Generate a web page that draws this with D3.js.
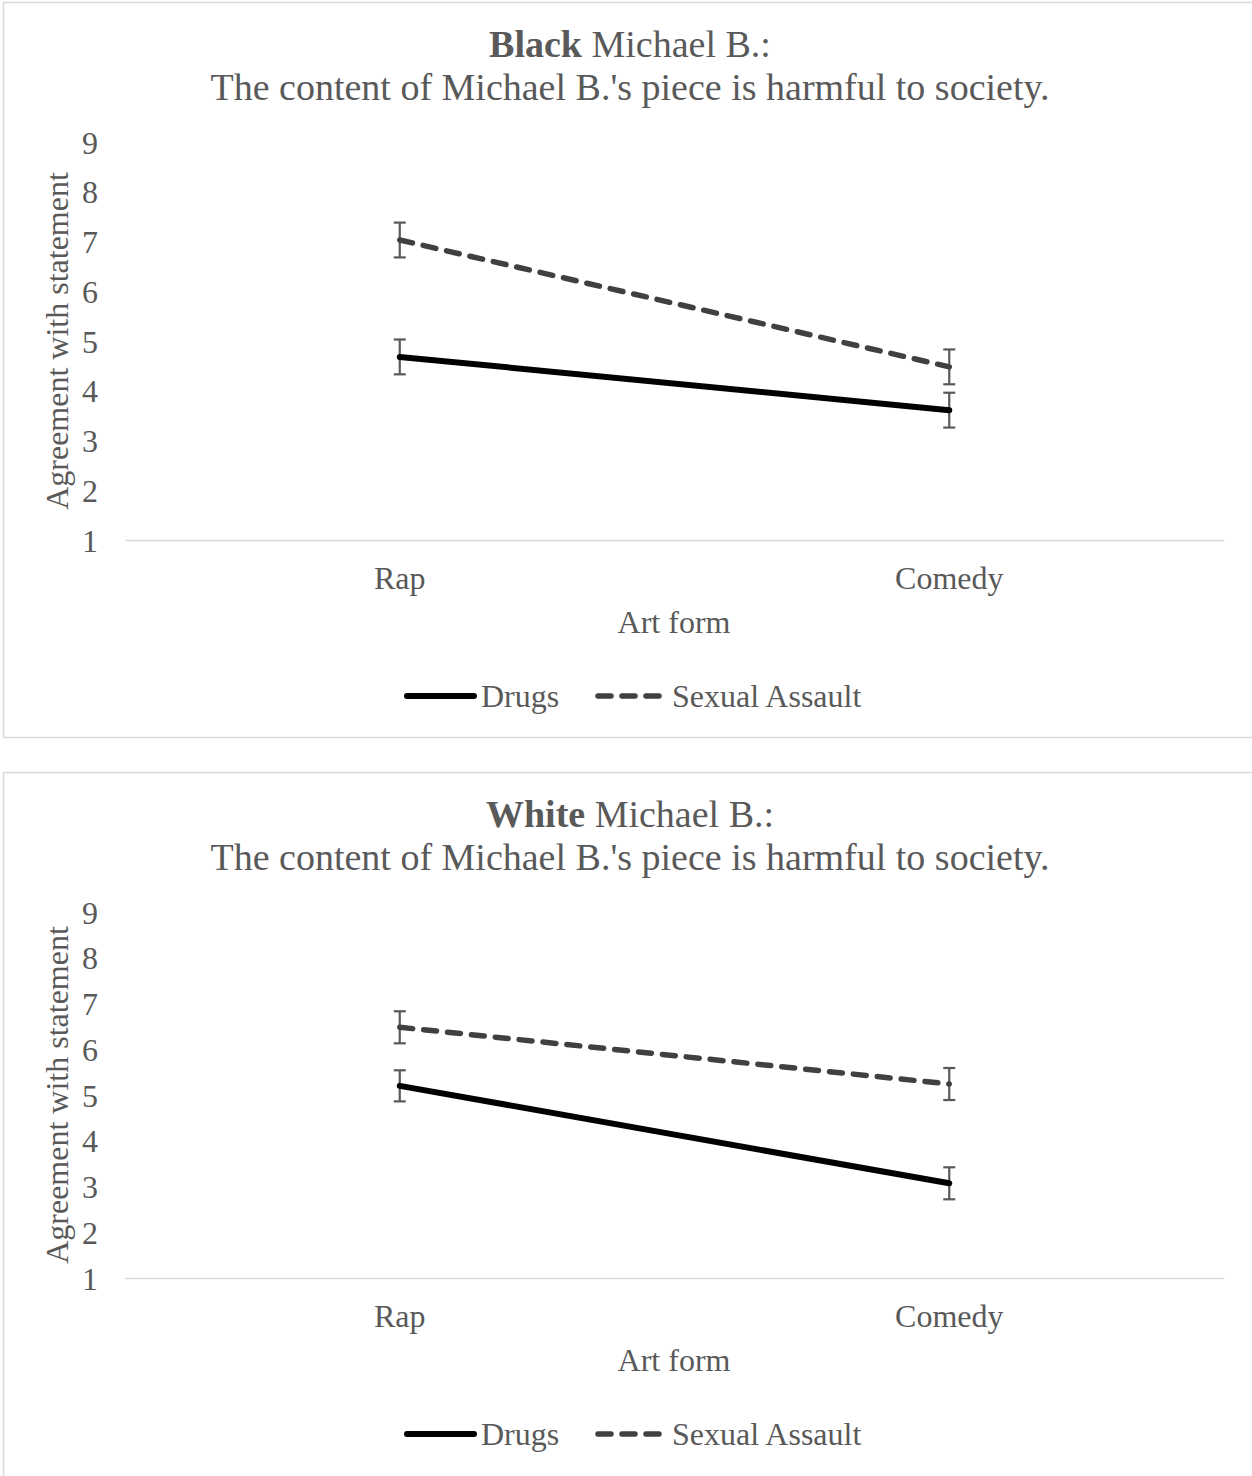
<!DOCTYPE html>
<html><head><meta charset="utf-8">
<script src="https://cdn.jsdelivr.net/npm/d3@7"></script>
<style>body{margin:0;background:#fff;} text{font-family:"Liberation Serif","Times New Roman",serif;fill:#595959;}</style>
</head><body><svg id="c" width="1252" height="1476"></svg>
<script>
const categories = ["Rap", "Comedy"];
const seriesNames = ["Drugs", "Sexual Assault"];
const yTicks = [1,2,3,4,5,6,7,8,9];
const titleBold = ["Black", "White"];
const titleRest = " Michael B.:";
const subtitle = "The content of Michael B.'s piece is harmful to society.";
// Black Michael B.
const blackDrugs = [4.68, 3.61];
const blackSexual = [7.03, 4.48];
const blackDrugsErr = [0.35, 0.35];
const blackSexualErr = [0.35, 0.35];
// White Michael B.
const whiteDrugs = [5.20, 3.07];
const whiteSexual = [6.48, 5.24];
const whiteDrugsErr = [0.34, 0.35];
const whiteSexualErr = [0.35, 0.35];

const svg = d3.select("#c");

function drawChart(top, bold, drugs, sexual, drugsErr, sexualErr, yTop, yBot, boxH) {
  const g = svg.append("g").attr("transform", `translate(0,${top})`);
  g.append("rect").attr("x",3.5).attr("y",2.5).attr("width",1260).attr("height",boxH)
    .attr("fill","#fff").attr("stroke","#d9d9d9").attr("stroke-width",1.5);
  const t = g.append("text").attr("x",630).attr("y",57).attr("text-anchor","middle").style("font-size","38px");
  t.append("tspan").attr("font-weight","bold").text(bold);
  t.append("tspan").text(titleRest);
  g.append("text").attr("x",630).attr("y",100).attr("text-anchor","middle").style("font-size","38px").text(subtitle);

  const x = d3.scaleBand().domain(categories).range([125,1224]);
  const y = d3.scaleLinear().domain([1,9]).range([yBot, yTop]);

  const yAxis = g.append("g").attr("transform","translate(98,0)")
    .call(d3.axisLeft(y).tickValues(yTicks).tickSize(0).tickPadding(0).tickFormat(d3.format("d")));
  yAxis.select(".domain").remove();
  yAxis.selectAll("text").style("font-size","32px").style("font-family","'Liberation Serif',serif").attr("fill","#595959").attr("dy","0.35em");

  const xAxis = g.append("g").attr("transform",`translate(0,${yBot})`)
    .call(d3.axisBottom(x).tickSize(0).tickPadding(38));
  xAxis.select(".domain").attr("stroke","#d9d9d9").attr("stroke-width",1.5);
  xAxis.selectAll("text").style("font-size","32px").style("font-family","'Liberation Serif',serif").attr("fill","#595959").attr("dy","0.35em");

  g.append("text").attr("x",674).attr("y",yBot+82).attr("dy","0.35em").attr("text-anchor","middle").style("font-size","32px").text("Art form");
  g.append("text").attr("transform",`translate(68,${(yTop+yBot)/2}) rotate(-90)`).attr("text-anchor","middle")
    .style("font-size","32px").text("Agreement with statement");

  const cx = d => x(d) + x.bandwidth()/2;
  const line = d3.line().x(d => cx(d.c)).y(d => y(d.v));
  const series = [
    {vals: drugs, err: drugsErr, color:"#000", dash:null, w:6},
    {vals: sexual, err: sexualErr, color:"#404040", dash:"13,11", w:5.5}
  ];
  series.forEach(s => {
    const pts = categories.map((c,i)=>({c, v:s.vals[i], e:s.err[i]}));
    pts.forEach(p => {
      const eg = g.append("g").attr("stroke","#595959").attr("stroke-width",2.2);
      eg.append("line").attr("x1",cx(p.c)).attr("x2",cx(p.c)).attr("y1",y(p.v+p.e)).attr("y2",y(p.v-p.e));
      [p.v+p.e, p.v-p.e].forEach(v => eg.append("line").attr("x1",cx(p.c)-6).attr("x2",cx(p.c)+6).attr("y1",y(v)).attr("y2",y(v)));
    });
    g.append("path").datum(pts).attr("d",line).attr("fill","none").attr("stroke",s.color)
      .attr("stroke-width",s.w).attr("stroke-linecap","round").attr("stroke-dasharray",s.dash);
  });

  const ly = yBot + 156;
  g.append("line").attr("x1",407).attr("x2",474).attr("y1",ly).attr("y2",ly).attr("stroke","#000").attr("stroke-width",6).attr("stroke-linecap","round");
  g.append("text").attr("x",481).attr("y",ly).attr("dy","0.35em").style("font-size","32px").text(seriesNames[0]);
  g.append("line").attr("x1",598).attr("x2",660).attr("y1",ly).attr("y2",ly).attr("stroke","#404040").attr("stroke-width",5.5)
    .attr("stroke-linecap","round").attr("stroke-dasharray","13,11");
  g.append("text").attr("x",672).attr("y",ly).attr("dy","0.35em").style("font-size","32px").text(seriesNames[1]);
}

drawChart(0, titleBold[0], blackDrugs, blackSexual, blackDrugsErr, blackSexualErr, 142, 540, 735);
drawChart(770, titleBold[1], whiteDrugs, whiteSexual, whiteDrugsErr, whiteSexualErr, 142, 508, 720);
</script></body></html>
